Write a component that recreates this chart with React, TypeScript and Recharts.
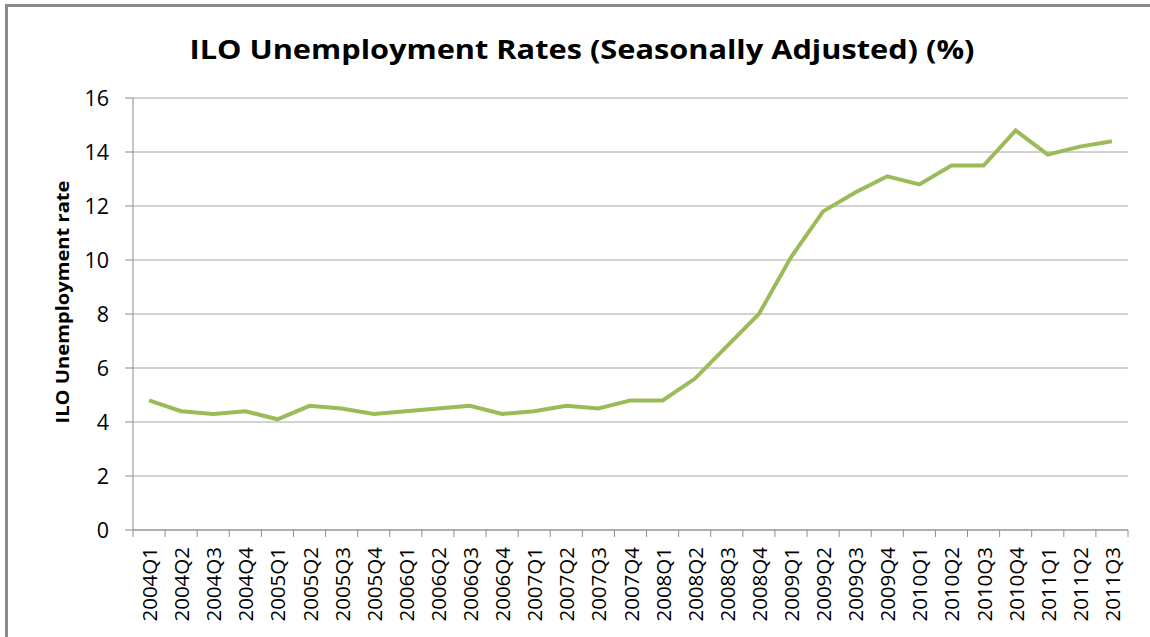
import React from "react";
import { LineChart, Line, XAxis, YAxis, CartesianGrid } from "recharts";

const quarters = [
  "2004Q1", "2004Q2", "2004Q3", "2004Q4",
  "2005Q1", "2005Q2", "2005Q3", "2005Q4",
  "2006Q1", "2006Q2", "2006Q3", "2006Q4",
  "2007Q1", "2007Q2", "2007Q3", "2007Q4",
  "2008Q1", "2008Q2", "2008Q3", "2008Q4",
  "2009Q1", "2009Q2", "2009Q3", "2009Q4",
  "2010Q1", "2010Q2", "2010Q3", "2010Q4",
  "2011Q1", "2011Q2", "2011Q3",
];

const rates = [
  4.8, 4.4, 4.3, 4.4,
  4.1, 4.6, 4.5, 4.3,
  4.4, 4.5, 4.6, 4.3,
  4.4, 4.6, 4.5, 4.8,
  4.8, 5.6, 6.8, 8.0,
  10.1, 11.8, 12.5, 13.1,
  12.8, 13.5, 13.5, 14.8,
  13.9, 14.2, 14.4,
];

const yTicks = [0, 2, 4, 6, 8, 10, 12, 14, 16];

const title = "ILO Unemployment Rates (Seasonally Adjusted) (%)";
const yLabel = "ILO Unemployment rate";

const data = quarters.map((q, i) => ({ q, v: rates[i] }));

const W = 1150;
const H = 637;
const PLOT_LEFT = 133;
const PLOT_RIGHT = 1128;
const PLOT_TOP = 98;
const PLOT_BOTTOM = 530;
const BAND = (PLOT_RIGHT - PLOT_LEFT) / quarters.length;
const FONT = "'Open Sans', 'Liberation Sans', sans-serif";
const AXIS_COLOR = "#8c8c8c";

const XTick = (props: any) => {
  const { x, payload, index } = props;
  const left = x - BAND / 2;
  return (
    <g>
      <line x1={left} y1={PLOT_BOTTOM} x2={left} y2={PLOT_BOTTOM + 7} stroke={AXIS_COLOR} strokeWidth={1} />
      {index === quarters.length - 1 && (
        <line x1={x + BAND / 2} y1={PLOT_BOTTOM} x2={x + BAND / 2} y2={PLOT_BOTTOM + 7} stroke={AXIS_COLOR} strokeWidth={1} />
      )}
      <text
        x={x}
        y={PLOT_BOTTOM + 17}
        transform={`rotate(-90, ${x}, ${PLOT_BOTTOM + 17})`}
        textAnchor="end"
        dominantBaseline="central"
        fontFamily={FONT}
        fontSize={20.5}
        fill="#000"
      >
        {payload.value}
      </text>
    </g>
  );
};

export default function App() {
  return (
    <div style={{ position: "absolute", left: 0, top: 0, width: W, height: H, overflow: "hidden", background: "#fff" }}>
      <div
        style={{
          position: "absolute",
          left: 5,
          top: 4,
          width: W + 20,
          height: H + 20,
          borderTop: "3px solid #8a8a8a",
          borderLeft: "3px solid #8a8a8a",
          boxSizing: "border-box",
        }}
      />
      <div style={{ position: "absolute", left: 0, top: 0 }}>
        <LineChart
          width={W}
          height={H}
          data={data}
          margin={{ top: PLOT_TOP, right: W - PLOT_RIGHT, left: 0, bottom: 0 }}
        >
          <CartesianGrid vertical={false} stroke="#a6a6a6" strokeWidth={1} />
          <XAxis
            dataKey="q"
            height={H - PLOT_BOTTOM}
            interval={0}
            padding={{ left: BAND / 2, right: BAND / 2 }}
            tickLine={false}
            axisLine={{ stroke: AXIS_COLOR, strokeWidth: 1 }}
            tick={<XTick />}
          />
          <YAxis
            width={PLOT_LEFT}
            domain={[0, 16]}
            ticks={yTicks}
            interval={0}
            tickSize={8}
            tickMargin={16}
            tickLine={{ stroke: AXIS_COLOR }}
            axisLine={{ stroke: AXIS_COLOR, strokeWidth: 1 }}
            tick={{ fontFamily: FONT, fontSize: 21.5, fill: "#000" }}
          />
          <Line
            type="linear"
            dataKey="v"
            stroke="#9bbb59"
            strokeWidth={4}
            dot={false}
            isAnimationActive={false}
          />
        </LineChart>
      </div>
      <svg width={W} height={H} style={{ position: "absolute", left: 0, top: 0, pointerEvents: "none" }}>
        <text
          x={582}
          y={59}
          textAnchor="middle"
          fontFamily={FONT}
          fontWeight="bold"
          fontSize={27}
          textLength={785}
          lengthAdjust="spacingAndGlyphs"
          fill="#000"
        >
          {title}
        </text>
        <text
          x={62}
          y={302}
          transform="rotate(-90, 62, 302)"
          textAnchor="middle"
          dominantBaseline="central"
          fontFamily={FONT}
          fontWeight="bold"
          fontSize={18}
          textLength={243}
          lengthAdjust="spacingAndGlyphs"
          fill="#000"
        >
          {yLabel}
        </text>
      </svg>
    </div>
  );
}
